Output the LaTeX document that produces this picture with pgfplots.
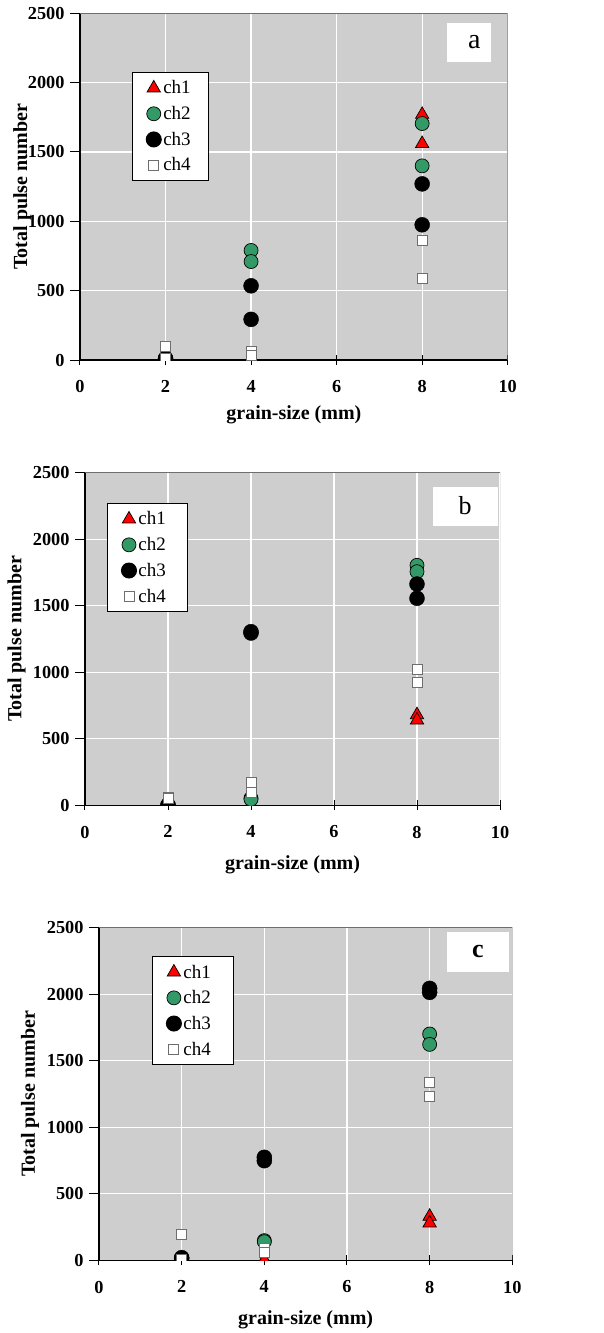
\documentclass[border=0pt]{standalone}
\usepackage{fontspec}
\setmainfont{Liberation Serif}
\usepackage{pgfplots}
\pgfplotsset{compat=1.18}

\definecolor{plotgray}{RGB}{206,206,206}
\definecolor{framegray}{RGB}{110,110,110}
\definecolor{chgreen}{RGB}{51,153,102}

\pgfplotsset{
  panel/.style={
    scale only axis,
    xmin=0, xmax=10, ymin=0, ymax=2500,
    xtick={0,2,...,10}, ytick={0,500,...,2500},
    axis lines*=left,
    axis line style={black, line width=1.3pt},
    axis background/.style={fill=plotgray},
    grid=major,
    major grid style={white, line width=1.3pt},
    tick align=center, major tick length=10pt,
    every tick/.style={black, line width=1pt},
    ytick style={xshift=-5pt},
    /pgf/number format/assume math mode=true,
    /pgf/number format/1000 sep={},
    ticklabel style={font=\fontsize{18.3}{20}\selectfont\bfseries},
    xticklabel style={yshift=-12pt},
    yticklabel style={xshift=-7pt},
    label style={font=\fontsize{20}{22}\selectfont\bfseries},
    xlabel={grain-size (mm)},
    ylabel={Total pulse number},
    clip marker paths=true,
    legend cell align=left,
    legend style={fill=white, draw=black, line width=1pt, anchor=north west,
      font=\fontsize{19}{21}\selectfont, row sep=7pt, inner xsep=14pt, inner ysep=6pt},
  },
  ch1/.style={only marks, mark=triangle*, mark size=7.7pt, mark options={fill=red, draw=black, line width=0.7pt}},
  ch2/.style={only marks, mark=*, mark size=7pt, mark options={fill=chgreen, draw=black, line width=0.7pt}},
  ch3/.style={only marks, mark=*, mark size=7.5pt, mark options={fill=black, draw=black}},
  ch4/.style={only marks, mark=square*, mark size=5pt, mark options={fill=white, draw=framegray, line width=0.9pt}},
}

\begin{document}
\begin{tikzpicture}

% --- a ---
\begin{axis}[panel, at={(80pt,-360pt)}, anchor=south west,
  width=427.7pt, height=346.7pt,
  xlabel style={at={(axis description cs:0.5,-0.158)}, anchor=center},
  ylabel style={at={(axis description cs:-0.135,0.5)}, anchor=center},
  legend style={at={(axis cs:1.21,2075)}}]
  \addplot[ch1] coordinates {(2,0) (2,0) (4,0) (4,0) (8,1770) (8,1560)};
  \addlegendentry{\makebox[29pt][l]{ch1}}
  \addplot[ch2] coordinates {(2,0) (2,5) (4,790) (4,710) (8,1705) (8,1400)};
  \addlegendentry{\makebox[29pt][l]{ch2}}
  \addplot[ch3] coordinates {(2,12) (2,8) (4,535) (4,293) (8,1270) (8,975)};
  \addlegendentry{\makebox[29pt][l]{ch3}}
  \addplot[ch4] coordinates {(2,96) (2,10) (4,60) (4,36) (8,863) (8,587)};
  \addlegendentry{\makebox[29pt][l]{ch4}}
  \draw[framegray, line width=1pt] (rel axis cs:0,1) -- (rel axis cs:1,1) -- (rel axis cs:1,0);
  \fill[white] (axis cs:8.57,2146) rectangle (axis cs:9.60,2427);
  \node[font=\fontsize{28}{30}\selectfont] at (axis cs:9.22,2289) {a};
\end{axis}

% --- b ---
\begin{axis}[panel, at={(85pt,-805.3pt)}, anchor=south west,
  width=415pt, height=332.6pt,
  xlabel style={at={(axis description cs:0.5,-0.18)}, anchor=center},
  ylabel style={at={(axis description cs:-0.165,0.5)}, anchor=center},
  legend style={at={(axis cs:0.53,2270)}}]
  \addplot[ch1] coordinates {(2,0) (2,0) (4,0) (4,0) (8,680) (8,640)};
  \addlegendentry{\makebox[33pt][l]{ch1}}
  \addplot[ch2] coordinates {(2,0) (2,0) (4,53) (4,45) (8,1804) (8,1756)};
  \addlegendentry{\makebox[33pt][l]{ch2}}
  \addplot[ch3] coordinates {(2,3) (2,0) (4,1305) (4,1295) (8,1663) (8,1556)};
  \addlegendentry{\makebox[33pt][l]{ch3}}
  \addplot[ch4] coordinates {(2,58) (2,50) (4,175) (4,98) (8,1022) (8,924)};
  \addlegendentry{\makebox[33pt][l]{ch4}}
  \draw[framegray, line width=1pt] (rel axis cs:0,1) -- (rel axis cs:1,1) -- (rel axis cs:1,0);
  \fill[white] (axis cs:8.39,2102) rectangle (axis cs:9.95,2390);
  \node[font=\fontsize{26}{28}\selectfont] at (axis cs:9.16,2250) {b};
\end{axis}

% --- c ---
\begin{axis}[panel, at={(99pt,-1260.3pt)}, anchor=south west,
  width=413.3pt, height=332.6pt,
  xlabel style={at={(axis description cs:0.5,-0.18)}, anchor=center},
  ylabel style={at={(axis description cs:-0.167,0.5)}, anchor=center},
  legend style={at={(axis cs:1.28,2285)}}]
  \addplot[ch1] coordinates {(2,0) (2,0) (4,0) (4,0) (8,330) (8,280)};
  \addlegendentry{\makebox[34pt][l]{ch1}}
  \addplot[ch2] coordinates {(2,8) (2,5) (4,148) (4,140) (8,1701) (8,1623)};
  \addlegendentry{\makebox[34pt][l]{ch2}}
  \addplot[ch3] coordinates {(2,20) (2,15) (4,774) (4,749) (8,2044) (8,2014)};
  \addlegendentry{\makebox[34pt][l]{ch3}}
  \addplot[ch4] coordinates {(2,195) (2,10) (4,90) (4,58) (8,1338) (8,1230)};
  \addlegendentry{\makebox[34pt][l]{ch4}}
  \draw[framegray, line width=1pt] (rel axis cs:0,1) -- (rel axis cs:1,1) -- (rel axis cs:1,0);
  \fill[white] (axis cs:8.42,2169) rectangle (axis cs:9.92,2470);
  \node[font=\fontsize{26}{28}\selectfont\bfseries] at (axis cs:9.17,2320) {c};
\end{axis}

\pgfresetboundingbox
\path (0pt,0pt) rectangle (604pt,-1333pt);
\end{tikzpicture}
\end{document}
